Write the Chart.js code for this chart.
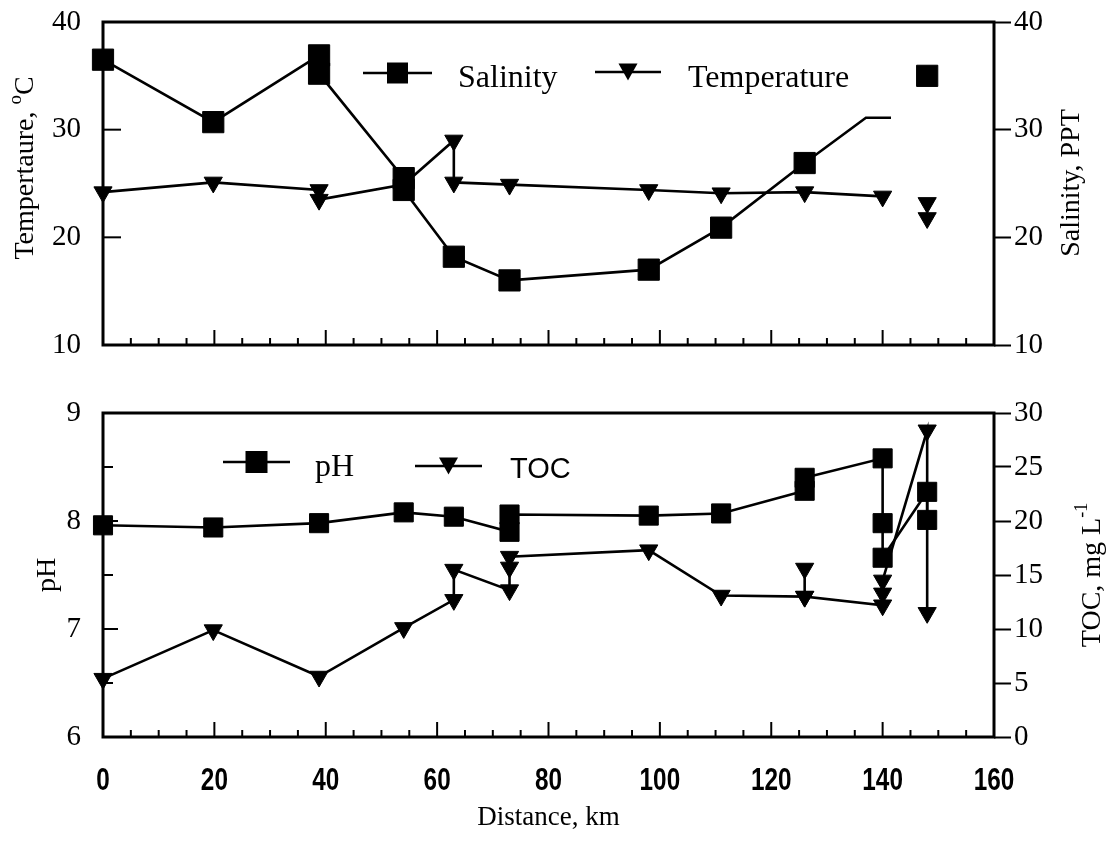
<!DOCTYPE html>
<html>
<head>
<meta charset="utf-8">
<script src="https://cdn.jsdelivr.net/npm/chart.js@4.4.0/dist/chart.umd.min.js"></script>
<style>
  body { margin: 0; background: #fff; }
  canvas { display: block; }
</style>
</head>
<body>
<canvas id="topChart" width="1114" height="380"></canvas>
<canvas id="bottomChart" width="1114" height="463"></canvas>
<script>
// distance down the estuary (km) and the values read at each station
const salinityKm = [0, 19.8, 38.8, 38.8, 54, 54, 63, 73, 98, 111, 126];
const salinityPpt = [36.5, 30.7, 36.9, 35.2, 25.5, 24.4, 18.2, 16.0, 17.0, 20.9, 26.9];
// line continues past the last marker
const salinityTailKm = [126, 137, 141.5];
const salinityTailPpt = [26.9, 31.1, 31.1];
const salinityOffKm = [148];
const salinityOffPpt = [35.0];

const tempKm = [0, 19.8, 38.8, 38.8, 54, 63, 63, 73, 98, 111, 126, 140];
const tempC = [24.2, 25.1, 24.4, 23.5, 24.9, 29.0, 25.1, 24.9, 24.4, 24.1, 24.2, 23.8];
const tempOffKm = [148, 148];
const tempOffC = [23.2, 21.8];

const phKm = [0, 19.8, 38.8, 54, 63, 73, 73, 98, 111, 126, 126, 140, 140, 140, 148, 148];
const phVal = [7.96, 7.94, 7.98, 8.08, 8.04, 7.90, 8.06, 8.05, 8.07, 8.28, 8.40, 8.58, 7.98, 7.66, 8.27, 8.01];

const tocKm = [0, 19.8, 38.8, 54, 63, 63, 73, 73, 73, 98, 111, 126, 126, 126, 140, 140, 140, 148, 148];
const tocMg = [5.4, 9.9, 5.6, 10.1, 12.7, 15.5, 13.6, 15.7, 16.7, 17.3, 13.1, 13.0, 15.6, 13.0, 12.2, 13.3, 14.5, 28.4, 11.5];

// tick labels
const distanceTicks = [0, 20, 40, 60, 80, 100, 120, 140, 160];
const tempTicks = [10, 20, 30, 40];
const salinityTicks = [10, 20, 30, 40];
const phTicks = [6, 7, 8, 9];
const tocTicks = [0, 5, 10, 15, 20, 25, 30];

const SERIF = '"Liberation Serif", "Times New Roman", serif';
const SANS = '"Liberation Sans", Arial, sans-serif';

Chart.defaults.color = '#000';
Chart.defaults.animation = false;

function pts(xs, ys) {
    return xs.map((x, i) => ({ x: x, y: ys[i] }));
}

function series(label, xs, ys, axis, marker, extra) {
    const isRect = marker === 'rect';
    return Object.assign({
        label: label,
        data: pts(xs, ys),
        yAxisID: axis,
        showLine: true,
        borderColor: '#000',
        borderWidth: 2.6,
        backgroundColor: '#000',
        pointStyle: isRect ? 'rect' : 'triangle',
        pointRotation: isRect ? 0 : 180,
        pointRadius: isRect ? 15 : 10.5,
        pointBorderWidth: 1,
        pointBorderColor: '#000',
        pointBackgroundColor: '#000',
        clip: false,
        tension: 0
    }, extra || {});
}

function fixedTicks(list) {
    return function(scale) {
        scale.ticks = list.map(v => ({ value: v }));
    };
}

// frame around the plot plus the inward tick marks
const framePlugin = {
    id: 'frame',
    beforeDatasetsDraw(chart, args, opts) {
        const ctx = chart.ctx;
        const a = chart.chartArea;
        ctx.save();
        ctx.strokeStyle = '#000';
        ctx.lineWidth = 3;
        ctx.strokeRect(a.left, a.top, a.right - a.left, a.bottom - a.top);
        ctx.lineWidth = 2;
        const xs = chart.scales.x;
        const nx = Math.round((xs.max - xs.min) / opts.xStep);
        for (let i = 0; i <= nx; i++) {
            const v = xs.min + i * opts.xStep;
            const px = xs.getPixelForValue(v);
            const len = i % opts.xMajorEvery === 0 ? opts.xMajorLen : opts.xMinorLen;
            ctx.beginPath();
            ctx.moveTo(px, a.bottom);
            ctx.lineTo(px, a.bottom - len);
            ctx.stroke();
        }
        const ys = chart.scales[opts.yId];
        const ny = Math.round((ys.max - ys.min) / opts.yStep);
        for (let i = 0; i <= ny; i++) {
            const v = ys.min + i * opts.yStep;
            const py = ys.getPixelForValue(v);
            const len = i % opts.yMajorEvery === 0 ? opts.yMajorLen : opts.yMinorLen;
            ctx.beginPath();
            ctx.moveTo(a.left, py);
            ctx.lineTo(a.left + len, py);
            ctx.stroke();
        }
        ctx.restore();
    }
};

// bold, narrow distance labels under the lower panel
const condensedTicksPlugin = {
    id: 'condensedTicks',
    afterDraw(chart, args, opts) {
        if (!opts.show) return;
        const ctx = chart.ctx;
        const xs = chart.scales.x;
        ctx.save();
        ctx.fillStyle = '#000';
        ctx.font = 'bold ' + opts.size + 'px ' + SANS;
        ctx.textAlign = 'center';
        ctx.textBaseline = 'middle';
        xs.ticks.forEach(t => {
            const px = xs.getPixelForValue(t.value);
            ctx.save();
            ctx.translate(px, chart.chartArea.bottom + opts.offset);
            ctx.scale(opts.squeeze, 1);
            ctx.fillText(String(t.value), 0, 0);
            ctx.restore();
        });
        ctx.restore();
    }
};

function drawMarker(ctx, marker, x, y, size) {
    ctx.beginPath();
    if (marker === 'rect') {
        ctx.rect(x - size / 2, y - size / 2, size, size);
    } else {
        const h = size * 0.9;
        ctx.moveTo(x - size / 2, y - h / 2);
        ctx.lineTo(x + size / 2, y - h / 2);
        ctx.lineTo(x, y + h / 2);
        ctx.closePath();
    }
    ctx.fill();
}

// legend entries drawn as line + marker + label
const legendPlugin = {
    id: 'lineLegend',
    afterDraw(chart, args, opts) {
        const ctx = chart.ctx;
        ctx.save();
        ctx.strokeStyle = '#000';
        ctx.fillStyle = '#000';
        opts.items.forEach(it => {
            ctx.lineWidth = 2.6;
            ctx.beginPath();
            ctx.moveTo(it.x0, it.y);
            ctx.lineTo(it.x1, it.y);
            ctx.stroke();
            drawMarker(ctx, it.marker, (it.x0 + it.x1) / 2, it.y, it.size);
            ctx.font = it.font;
            ctx.textBaseline = 'alphabetic';
            ctx.fillText(it.text, it.tx, it.ty);
        });
        ctx.restore();
    }
};

// rotated axis titles with superscripts
const titlesPlugin = {
    id: 'axisTitles',
    afterDraw(chart, args, opts) {
        const ctx = chart.ctx;
        opts.items.forEach(it => {
            ctx.save();
            ctx.translate(it.x, it.y);
            ctx.rotate(-Math.PI / 2);
            ctx.fillStyle = '#000';
            ctx.textBaseline = 'alphabetic';
            let total = 0;
            it.runs.forEach(r => {
                ctx.font = r.size + 'px ' + SERIF;
                r.w = ctx.measureText(r.text).width;
                total += r.w;
            });
            let u = -total / 2;
            it.runs.forEach(r => {
                ctx.font = r.size + 'px ' + SERIF;
                ctx.fillText(r.text, u, -(r.rise || 0));
                u += r.w;
            });
            ctx.restore();
        });
    }
};

const tickFont = { family: SERIF, size: 29 };

// left axes: ticks are drawn inward by the frame plugin, tickLength only spaces the labels
const leftGrid = { display: false, drawTicks: true, tickLength: 19 };
const rightGrid = { display: true, drawOnChartArea: false, drawTicks: true,
                    tickLength: 17, tickWidth: 2, tickColor: '#000' };

const topChart = new Chart(document.getElementById('topChart'), {
    type: 'scatter',
    data: {
        datasets: [
            series('Salinity', salinityKm, salinityPpt, 'ySal', 'rect'),
            series('Salinity trace', salinityTailKm, salinityTailPpt, 'ySal', 'rect', { pointRadius: 0 }),
            series('Salinity, 148 km', salinityOffKm, salinityOffPpt, 'ySal', 'rect', { showLine: false }),
            series('Temperature', tempKm, tempC, 'yTemp', 'tri'),
            series('Temperature, 148 km', tempOffKm, tempOffC, 'yTemp', 'tri', { showLine: false })
        ]
    },
    options: {
        responsive: false,
        events: [],
        layout: { padding: { top: 22, left: 0, right: 0, bottom: 0 } },
        plugins: {
            legend: { display: false },
            tooltip: { enabled: false },
            frame: { xStep: 5, xMajorEvery: 4, xMajorLen: 15, xMinorLen: 7,
                     yId: 'yTemp', yStep: 10, yMajorEvery: 1, yMajorLen: 18, yMinorLen: 18 },
            condensedTicks: { show: false },
            lineLegend: { items: [
                { text: 'Salinity', marker: 'rect', x0: 363, x1: 432, y: 73, size: 21,
                  tx: 458, ty: 87, font: '32px ' + SERIF },
                { text: 'Temperature', marker: 'tri', x0: 595, x1: 661, y: 72, size: 19,
                  tx: 688, ty: 87, font: '32px ' + SERIF }
            ] },
            axisTitles: { items: [
                { x: 33, y: 168, runs: [
                    { text: 'Tempertaure, ', size: 28 },
                    { text: 'o', size: 19, rise: 12 },
                    { text: 'C', size: 28 } ] },
                { x: 1079, y: 183, runs: [ { text: 'Salinity, PPT', size: 28 } ] }
            ] }
        },
        scales: {
            x: {
                type: 'linear', min: 0, max: 160,
                afterBuildTicks: fixedTicks(distanceTicks),
                afterFit: s => { s.height = 35; },
                grid: { display: false, drawTicks: false },
                border: { display: false },
                ticks: { display: false }
            },
            yTemp: {
                position: 'left', min: 10, max: 40,
                afterBuildTicks: fixedTicks(tempTicks),
                afterFit: s => { s.width = 103; },
                grid: leftGrid,
                border: { display: false },
                ticks: { font: tickFont, padding: 3 }
            },
            ySal: {
                position: 'right', min: 10, max: 40,
                afterBuildTicks: fixedTicks(salinityTicks),
                afterFit: s => { s.width = 120; },
                grid: rightGrid,
                border: { display: false },
                ticks: { font: tickFont, padding: 3 }
            }
        }
    },
    plugins: [framePlugin, legendPlugin, titlesPlugin, condensedTicksPlugin]
});

const bottomChart = new Chart(document.getElementById('bottomChart'), {
    type: 'scatter',
    data: {
        datasets: [
            series('pH', phKm, phVal, 'yPh', 'rect', { pointRadius: 13.5 }),
            series('TOC', tocKm, tocMg, 'yToc', 'tri')
        ]
    },
    options: {
        responsive: false,
        events: [],
        layout: { padding: { top: 33, left: 0, right: 0, bottom: 0 } },
        plugins: {
            legend: { display: false },
            tooltip: { enabled: false },
            frame: { xStep: 5, xMajorEvery: 4, xMajorLen: 15, xMinorLen: 7,
                     yId: 'yPh', yStep: 0.5, yMajorEvery: 2, yMajorLen: 15, yMinorLen: 10 },
            condensedTicks: { show: true, size: 32, squeeze: 0.76, offset: 44 },
            lineLegend: { items: [
                { text: 'pH', marker: 'rect', x0: 223, x1: 290, y: 82, size: 22,
                  tx: 315, ty: 96, font: '32px ' + SERIF },
                { text: 'TOC', marker: 'tri', x0: 415, x1: 482, y: 86, size: 19,
                  tx: 510, ty: 98, font: '29px ' + SANS }
            ] },
            axisTitles: { items: [
                { x: 55, y: 195, runs: [ { text: 'pH', size: 28 } ] },
                { x: 1100, y: 195, runs: [
                    { text: 'TOC, mg L', size: 28 },
                    { text: '-1', size: 18, rise: 13 } ] }
            ] }
        },
        scales: {
            x: {
                type: 'linear', min: 0, max: 160,
                afterBuildTicks: fixedTicks(distanceTicks),
                afterFit: s => { s.height = 106; },
                grid: { display: false, drawTicks: false },
                border: { display: false },
                ticks: { display: false },
                title: { display: true, text: 'Distance, km', font: { family: SERIF, size: 27 },
                         padding: { top: 0, bottom: 9 } }
            },
            yPh: {
                position: 'left', min: 6, max: 9,
                afterBuildTicks: fixedTicks(phTicks),
                afterFit: s => { s.width = 103; },
                grid: leftGrid,
                border: { display: false },
                ticks: { font: tickFont, padding: 3 }
            },
            yToc: {
                position: 'right', min: 0, max: 30,
                afterBuildTicks: fixedTicks(tocTicks),
                afterFit: s => { s.width = 120; },
                grid: rightGrid,
                border: { display: false },
                ticks: { font: tickFont, padding: 3 }
            }
        }
    },
    plugins: [framePlugin, legendPlugin, titlesPlugin, condensedTicksPlugin]
});
</script>
</body>
</html>
